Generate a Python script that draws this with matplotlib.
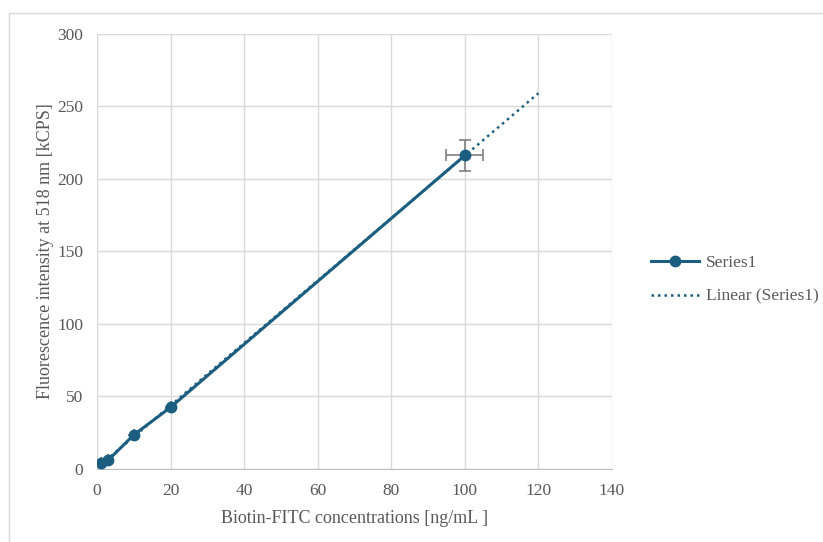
import numpy as np
import matplotlib.pyplot as plt
from matplotlib.patches import Rectangle

conc = [1, 3, 10, 20, 100]
intensity = [4, 6, 23.5, 42.5, 216]
x_err = [0, 0, 0, 0, 5]
y_err = [0, 0, 0, 0, 10.5]
trend_end = 120

line_color = '#1b5e7f'
grid_color = '#d9d9d9'
text_color = '#595959'

plt.rcParams['font.family'] = ['Liberation Serif', 'DejaVu Serif']

fig = plt.figure(figsize=(8.23, 5.42), dpi=100)
fig.patches.append(Rectangle((8.5 / 823, -0.1), 1.0, 1 - 12.5 / 542 + 0.1,
                             transform=fig.transFigure, fill=False,
                             edgecolor='#d9d9d9', linewidth=1.0))
ax = fig.add_axes([97 / 823, 1 - 469 / 542, (612 - 97) / 823, (469 - 33.5) / 542])

# linear trendline (least squares), forecast forward to 120
slope, intercept = np.polyfit(conc, intensity, 1)
tx = np.array([conc[0], trend_end])
ax.plot(tx, slope * tx + intercept, linestyle=(0, (1, 1.6)), color=line_color,
        linewidth=1.8, label='Linear (Series1)', zorder=3)

ax.errorbar(conc, intensity, xerr=x_err, yerr=y_err, fmt='none', ecolor='#7f7f7f',
            elinewidth=1.2, capsize=4, capthick=1.2, zorder=2)
ax.plot(conc, intensity, '-o', color=line_color, linewidth=2.2, markersize=7.5,
        label='Series1', zorder=4)

ax.set_xlim(0, 140)
ax.set_ylim(0, 300)
ax.set_xticks(np.arange(0, 141, 20))
ax.set_yticks(np.arange(0, 301, 50))
ax.grid(True, color=grid_color, linewidth=1.0)
ax.set_axisbelow(True)
for s in ['top', 'right', 'left']:
    ax.spines[s].set_visible(False)
ax.spines['bottom'].set_color('#bfbfbf')
ax.tick_params(axis='x', length=0, labelsize=12.5, colors=text_color, pad=10)
ax.tick_params(axis='y', length=0, labelsize=12.5, colors=text_color, pad=10)

ax.set_xlabel('Biotin-FITC concentrations [ng/mL ]', fontsize=13, color=text_color, labelpad=8)
ax.set_ylabel('Fluorescence intensity at 518 nm [kCPS]', fontsize=13, color=text_color, labelpad=2)

handles, labels = ax.get_legend_handles_labels()
leg = fig.legend([handles[1], handles[0]], [labels[1], labels[0]],
                 loc='center left', bbox_to_anchor=(635 / 823, 1 - 280 / 542),
                 frameon=False, fontsize=12.5, handlelength=2.8, handletextpad=0.4,
                 labelspacing=1.0)
for t in leg.get_texts():
    t.set_color(text_color)

fig.savefig('out.png', dpi=100)
